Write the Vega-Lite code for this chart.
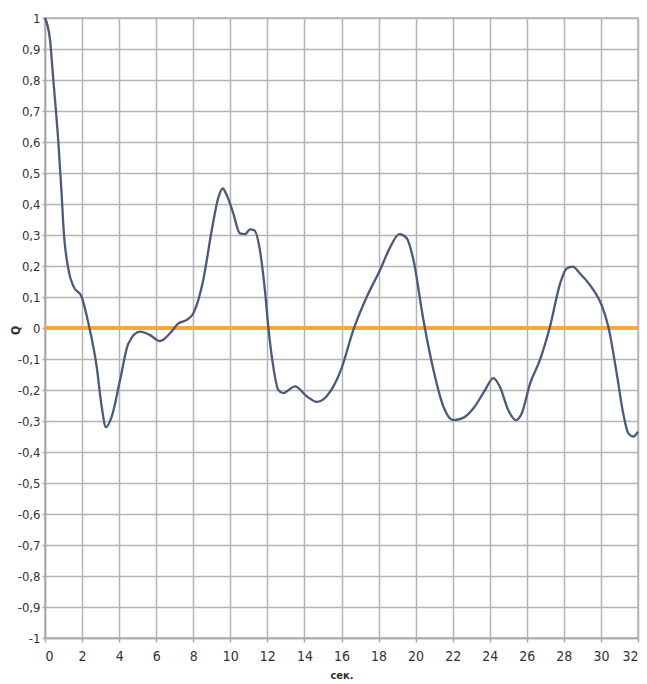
{
  "$schema": "https://vega.github.io/schema/vega-lite/v6.json",
  "width": 593,
  "height": 620,
  "autosize": {"type": "none"},
  "padding": {"left": 45, "top": 18, "right": 9, "bottom": 46},
  "background": "white",
  "config": {
    "view": {"stroke": "#b4b4b4", "strokeWidth": 1.5},
    "axis": {
      "labelFont": "DejaVu Sans Condensed, DejaVu Sans",
      "titleFont": "DejaVu Sans Condensed, DejaVu Sans",
      "labelColor": "#333333",
      "titleColor": "#333333",
      "labelFontSize": 13,
      "gridColor": "#b4b4b4",
      "gridWidth": 1.5,
      "gridOpacity": 1,
      "domainColor": "#a8a8a8",
      "domainWidth": 1.5,
      "tickColor": "#a8a8a8",
      "tickWidth": 1.5,
      "tickSize": 4,
      "labelOverlap": false
    }
  },
  "data": {"values": [
    {"t": 0, "q": 1.0},
    {"t": 0.27, "q": 0.93},
    {"t": 0.45, "q": 0.8},
    {"t": 0.72, "q": 0.6},
    {"t": 0.9, "q": 0.43},
    {"t": 0.99, "q": 0.33},
    {"t": 1.26, "q": 0.19},
    {"t": 1.53, "q": 0.135},
    {"t": 1.98, "q": 0.1},
    {"t": 2.34, "q": 0.016},
    {"t": 2.79, "q": -0.125},
    {"t": 3.06, "q": -0.254},
    {"t": 3.29, "q": -0.32},
    {"t": 3.6, "q": -0.286},
    {"t": 4.05, "q": -0.168},
    {"t": 4.5, "q": -0.05},
    {"t": 5.13, "q": -0.012},
    {"t": 5.67, "q": -0.023},
    {"t": 6.2, "q": -0.042},
    {"t": 6.75, "q": -0.017},
    {"t": 7.2, "q": 0.015},
    {"t": 7.65, "q": 0.026},
    {"t": 8.0, "q": 0.047},
    {"t": 8.54, "q": 0.155},
    {"t": 9.0, "q": 0.316},
    {"t": 9.35, "q": 0.42},
    {"t": 9.59, "q": 0.45},
    {"t": 9.8, "q": 0.43},
    {"t": 10.16, "q": 0.37},
    {"t": 10.52, "q": 0.305},
    {"t": 10.8, "q": 0.303},
    {"t": 11.06, "q": 0.318},
    {"t": 11.28, "q": 0.316},
    {"t": 11.6, "q": 0.25},
    {"t": 11.87, "q": 0.12},
    {"t": 12.05, "q": 0.004},
    {"t": 12.32, "q": -0.125},
    {"t": 12.59, "q": -0.2},
    {"t": 12.86, "q": -0.21},
    {"t": 13.49, "q": -0.188},
    {"t": 14.12, "q": -0.22},
    {"t": 14.66, "q": -0.238},
    {"t": 15.2, "q": -0.22},
    {"t": 15.5, "q": -0.195},
    {"t": 16.0, "q": -0.13},
    {"t": 16.64, "q": -0.006},
    {"t": 17.36, "q": 0.1},
    {"t": 18.08, "q": 0.187},
    {"t": 18.62, "q": 0.26},
    {"t": 19.12, "q": 0.303},
    {"t": 19.52, "q": 0.29},
    {"t": 19.88, "q": 0.22},
    {"t": 20.42, "q": 0.026},
    {"t": 20.96, "q": -0.135},
    {"t": 21.5, "q": -0.254},
    {"t": 22.03, "q": -0.297},
    {"t": 22.57, "q": -0.29},
    {"t": 23.11, "q": -0.26},
    {"t": 23.75, "q": -0.2},
    {"t": 24.19, "q": -0.162},
    {"t": 24.55, "q": -0.19},
    {"t": 25.0, "q": -0.265},
    {"t": 25.42, "q": -0.297},
    {"t": 25.73, "q": -0.275},
    {"t": 26.17, "q": -0.18},
    {"t": 26.71, "q": -0.103},
    {"t": 27.25, "q": 0.004},
    {"t": 27.8, "q": 0.144},
    {"t": 28.15, "q": 0.192},
    {"t": 28.48, "q": 0.198},
    {"t": 28.87, "q": 0.176},
    {"t": 29.59, "q": 0.123},
    {"t": 30.04, "q": 0.074},
    {"t": 30.4, "q": 0.004},
    {"t": 30.85, "q": -0.146},
    {"t": 31.2, "q": -0.275},
    {"t": 31.48, "q": -0.34},
    {"t": 31.75, "q": -0.35},
    {"t": 32.0, "q": -0.334}
  ]},
  "encoding": {
    "x": {
      "field": "t", "type": "quantitative",
      "scale": {"domain": [0, 32], "nice": false},
      "axis": {
        "grid": true,
        "values": [0,2,4,6,8,10,12,14,16,18,20,22,24,26,28,30,32],
        "title": "сек.", "titleFontSize": 11, "titleFontWeight": "bold",
        "titleY": 37, "titleBaseline": "middle",
        "labelPadding": 7, "labelFontSize": 14
      }
    },
    "y": {
      "field": "q", "type": "quantitative",
      "scale": {"domain": [-1, 1], "nice": false},
      "axis": {
        "grid": true,
        "values": [-1,-0.9,-0.8,-0.7,-0.6,-0.5,-0.4,-0.3,-0.2,-0.1,0,0.1,0.2,0.3,0.4,0.5,0.6,0.7,0.8,0.9,1],
        "labelExpr": "replace(replace(format(datum.value, '.1~f'), '.', ','), '\u2212', '-')",
        "title": "Q", "titleFontSize": 12, "titleFontWeight": "bold",
        "titleX": -30, "titleY": 312, "titleAngle": -90,
        "titleAlign": "center", "titleBaseline": "middle",
        "labelPadding": 2, "tickSize": 3
      }
    }
  },
  "layer": [
    {
      "mark": {"type": "rule", "color": "#f2a93b", "strokeWidth": 3},
      "encoding": {"x": null, "y": {"datum": 0, "type": "quantitative"}}
    },
    {
      "mark": {"type": "line", "color": "#4a5a7a", "strokeWidth": 2.3, "interpolate": "monotone"}
    }
  ]
}
